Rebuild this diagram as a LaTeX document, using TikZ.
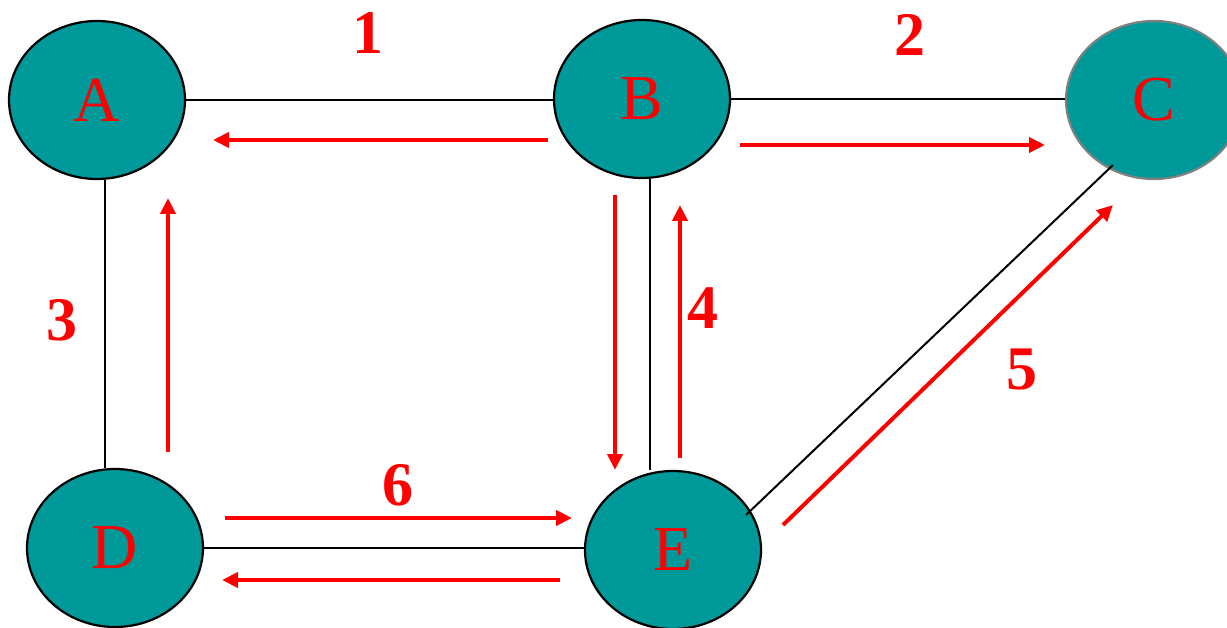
\documentclass[tikz,border=0pt]{standalone}
\usepackage{fontspec}
\setmainfont{Liberation Serif}
\usetikzlibrary{shapes.geometric,arrows.meta}
\definecolor{teal0}{RGB}{0,153,153}
\definecolor{rim}{RGB}{128,128,128}
\tikzset{
  vert/.style={ellipse,draw=black,line width=2.2pt,fill=teal0,minimum width=176pt,minimum height=158pt,inner sep=0pt,text=red,font=\fontsize{64}{64}\selectfont},
  edge/.style={draw=black,line width=2pt},
  flow/.style={draw=red,line width=4pt,-{Triangle[length=16pt,width=15pt]}},
  wt/.style={text=red,font=\fontsize{62}{62}\selectfont\bfseries,inner sep=0pt}
}
\begin{document}
\begin{tikzpicture}[x=1pt,y=-1pt]
\useasboundingbox (0,0) rectangle (1227,628);
\clip (0,0) rectangle (1227,628);
\node[vert] (A) at (97,100) {A};
\node[vert] (B) at (642,99) {B};
\node[vert,draw=rim] (C) at (1154,100) {C};
\node[vert] (D) at (115,548) {D};
\node[vert] (E) at (673,550) {E};
% black edges
\coordinate (e5) at (746,515);
\coordinate (c5) at (1113,165);
\draw[edge] (A.east) -- (A.east -| B.west);
\draw[edge] (B.east) -- (B.east -| C.west);
\draw[edge] (A.south -| 105,0) -- (D.north -| 105,0);
\draw[edge] (B.south -| 650,0) -- (E.north -| 650,0);
\draw[edge] (D.east |- 0,548) -- (E.west |- 0,548);
\draw[edge] (e5) -- (c5);
% red flows
\coordinate (a1) at (548,140); \coordinate (a2) at (213,140);
\coordinate (b1) at (740,145); \coordinate (b2) at (1045,145);
\coordinate (c1) at (168,452); \coordinate (c2) at (168,198);
\coordinate (d1) at (615,195); \coordinate (d2) at (615,470);
\coordinate (e1) at (680,458); \coordinate (e2) at (680,205);
\coordinate (f1) at (783,525); \coordinate (f2) at (1113,205);
\coordinate (g1) at (225,518); \coordinate (g2) at (572,518);
\coordinate (h1) at (560,580); \coordinate (h2) at (222,580);
\draw[flow] (a1) -- (a2);
\draw[flow] (b1) -- (b2);
\draw[flow] (c1) -- (c2);
\draw[flow] (d1) -- (d2);
\draw[flow] (e1) -- (e2);
\draw[flow] (f1) -- (f2);
\draw[flow] (g1) -- (g2);
\draw[flow] (h1) -- (h2);
% weights
\node[wt] (w1) at (368,33) {1};
\node[wt] (w2) at (910,35) {2};
\node[wt] (w3) at (62,320) {3};
\node[wt] (w4) at (703,308) {4};
\node[wt] (w5) at (1022,370) {5};
\node[wt] (w6) at (398,485) {6};
\end{tikzpicture}
\end{document}
